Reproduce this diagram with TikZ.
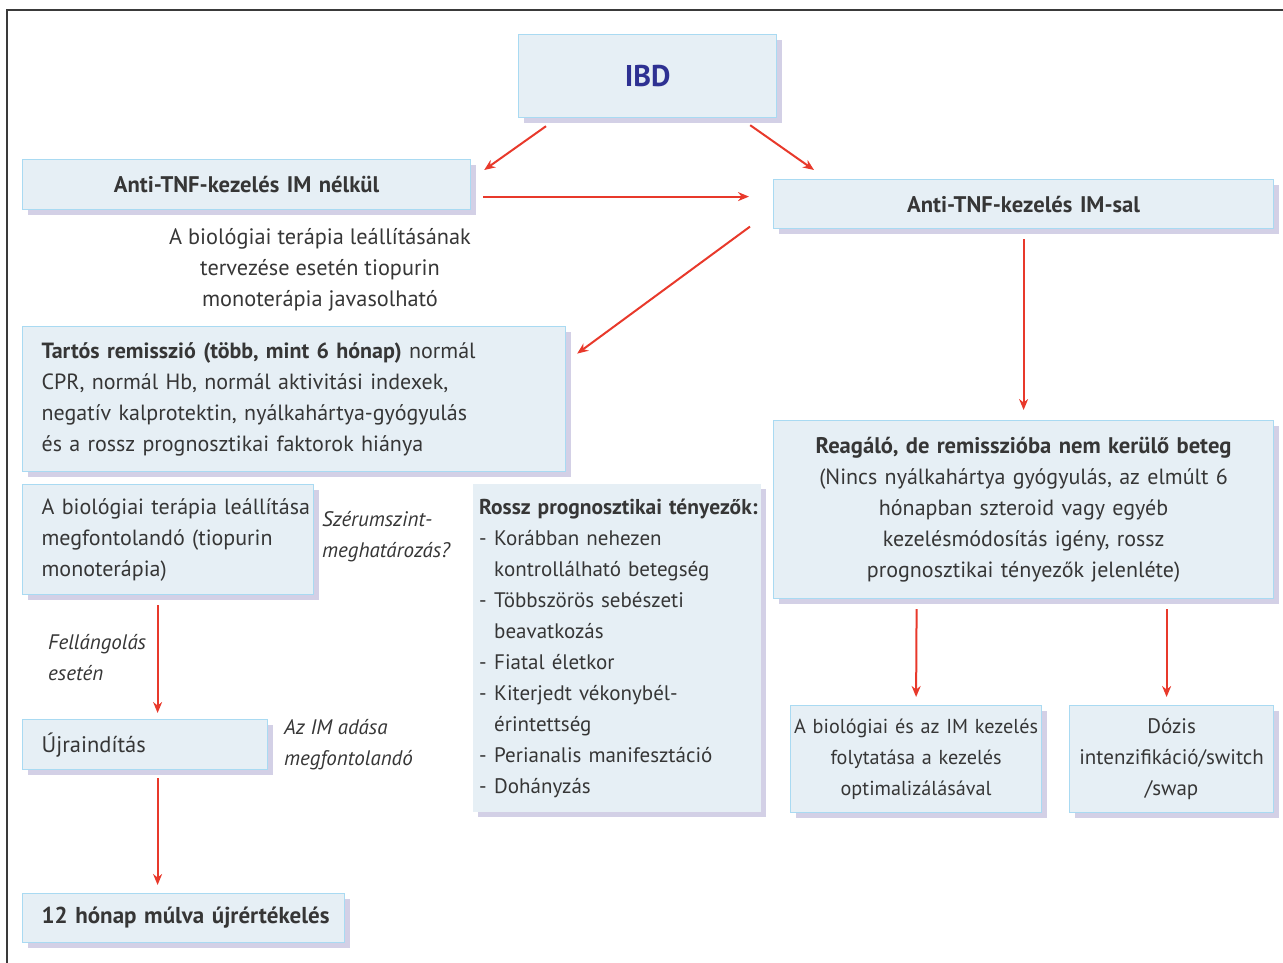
\documentclass[tikz,border=0pt]{standalone}
\usepackage{fontspec}
\setmainfont{PT Sans}
\usetikzlibrary{arrows.meta,shadows,calc}
\definecolor{boxfill}{HTML}{E6EFF5}
\definecolor{boxline}{HTML}{A9DAF2}
\definecolor{boxshade}{HTML}{D3D0E6}
\definecolor{ink}{HTML}{363636}
\definecolor{ibdblue}{HTML}{2E3192}
\definecolor{flow}{HTML}{E8392B}
\definecolor{frame}{HTML}{3A3A3A}

\newcommand{\fsmall}{\fontsize{21}{31}\selectfont}
\newcommand{\fbody}{\fontsize{22}{31}\selectfont}
\newcommand{\fhead}{\fontsize{22.6}{31}\selectfont\bfseries}

\begin{document}
\begin{tikzpicture}[x=1pt,y=-1pt,
  every node/.style={font=\fsmall, text=ink, inner sep=0pt},
  shade/.style={general shadow={fill=boxshade, shadow xshift=5pt, shadow yshift=-5pt}},
  panel/.style={anchor=north west, fill=boxfill, draw=boxline, line width=1.2pt, shade},
  plainpanel/.style={anchor=north west, fill=boxfill, shade},
  leftpanel/.style={panel, align=left},
  midpanel/.style={panel, align=center},
  note/.style={font=\fsmall\itshape},
  flowarrow/.style={draw=flow, line width=2pt, -{Stealth[length=11pt,width=9pt]}},
]
\useasboundingbox (0,0) rectangle (1283,963);
\draw[frame, line width=1.3pt] (7,963) -- (7,10) -- (1283,10);

% top level
\node[midpanel, minimum width=258, minimum height=83, text width=240,
      font=\fontsize{30}{36}\selectfont\bfseries, text=ibdblue] (ibd) at (518,34) {IBD};
\node[midpanel, minimum width=448, minimum height=50, text width=440, font=\fhead] (noim) at (22,159)
  {Anti-TNF-kezelés IM nélkül};
\node[midpanel, minimum width=500, minimum height=49, text width=490, font=\fhead] (im) at (773,179)
  {Anti-TNF-kezelés IM-sal};

\node[align=center, anchor=base, font=\fontsize{22.3}{31}\selectfont] (stopnote) at (320,306)
  {A biológiai terápia leállításának\\tervezése esetén tiopurin\\monoterápia javasolható};

% left branch
\node[leftpanel, minimum width=543, minimum height=145, text width=505, font=\fbody] (remis) at (22,326)
  {\mbox{\textbf{Tartós remisszió (több, mint 6 hónap)} normál}\\
   \mbox{CPR, normál Hb, normál aktivitási indexek,}\\
   \mbox{negatív kalprotektin, nyálkahártya-gyógyulás}\\
   \mbox{és a rossz prognosztikai faktorok hiánya}};

\node[leftpanel, minimum width=291, minimum height=110, text width=253, font=\fbody] (stop) at (22,484)
  {\mbox{A biológiai terápia leállítása}\\
   \mbox{megfontolandó (tiopurin}\\
   \mbox{monoterápia)}};

\node[note, align=left, anchor=base west] (serum) at (322,557)
  {Szérumszint-\\meghatározás?};

\node[note, align=left, anchor=base west] (flare) at (48,680)
  {Fellángolás\\esetén};

\node[leftpanel, minimum width=245, minimum height=50, text width=207, font=\fontsize{22.5}{31}\selectfont] (restart) at (22,719)
  {Újraindítás};

\node[note, align=left, anchor=base west] (imnote) at (284,765)
  {Az IM adása\\megfontolandó};

\node[leftpanel, minimum width=322, minimum height=49, text width=284,
      font=\fontsize{23}{31}\selectfont\bfseries] (reeval) at (22,893)
  {\mbox{12 hónap múlva újrértékelés}};

% risk factors
\node[plainpanel, align=left, minimum width=288, minimum height=328, text width=276] (risk) at (473,484)
  {\mbox{\fontsize{21.5}{31}\selectfont\bfseries Rossz prognosztikai tényezők:}\\
   \makebox[15pt][l]{-}Korábban nehezen\\
   \hspace*{15pt}kontrollálható betegség\\
   \makebox[15pt][l]{-}Többszörös sebészeti\\
   \hspace*{15pt}beavatkozás\\
   \makebox[15pt][l]{-}Fiatal életkor\\
   \makebox[15pt][l]{-}Kiterjedt vékonybél-\\
   \hspace*{15pt}érintettség\\
   \makebox[15pt][l]{-}Perianalis manifesztáció\\
   \makebox[15pt][l]{-}Dohányzás};

% right branch
\node[midpanel, minimum width=500, minimum height=178, text width=496, font=\fbody] (react) at (773,420)
  {{\fhead Reagáló, de remisszióba nem kerülő beteg}\\
   (Nincs nyálkahártya gyógyulás, az elmúlt 6\\
   hónapban szteroid vagy egyéb\\
   kezelésmódosítás igény, rossz\\
   prognosztikai tényezők jelenléte)};

\node[midpanel, minimum width=251, minimum height=107, text width=251,
      font=\fontsize{20.2}{31}\selectfont] (cont) at (790,705)
  {\makebox[251pt][c]{A biológiai és az IM kezelés}\\folytatása a kezelés\\optimalizálásával};

\node[midpanel, minimum width=204, minimum height=107, text width=204] (dose) at (1069,705)
  {Dózis\\intenzifikáció/switch\\/swap};

% connectors
\draw[flowarrow] ($(ibd.south west)+(28,8)$) -- ($(noim.north east)+(13,11)$);
\draw[flowarrow] ($(ibd.south east)+(-27,7)$) -- ($(im.north west)+(41,-9)$);
\draw[flowarrow] ($(noim.east)+(12,12)$) -- ($(im.west)+(-24,-7.5)$);
\draw[flowarrow] ($(im.west)+(-23,22.5)$) -- ($(remis.east)+(11,-45.5)$);
\draw[flowarrow] ($(im.south)+(0,10)$) -- ($(react.north)+(0,-10)$);
\draw[flowarrow] ($(stop.south)+(-10.5,10)$) -- ($(restart.north)+(12.5,-6)$);
\draw[flowarrow] ($(restart.south)+(12.5,8)$) -- ($(reeval.north)+(-26,-8)$);
\draw[flowarrow] ($(react.south)+(-107,10)$) -- ($(cont.north)+(0,-8)$);
\draw[flowarrow] ($(react.south)+(143,10)$) -- ($(dose.north)+(-5,-8)$);
\end{tikzpicture}
\end{document}
